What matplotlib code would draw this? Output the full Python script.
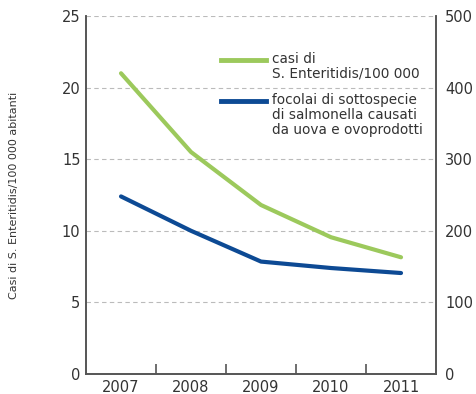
import matplotlib
matplotlib.use("Agg")
import matplotlib.pyplot as plt
from matplotlib.lines import Line2D
from matplotlib.legend_handler import HandlerLine2D

years = ["2007", "2008", "2009", "2010", "2011"]
casi = [21.0, 15.5, 11.8, 9.55, 8.15]          # casi per 100 000 (left axis)
focolai = [248, 200, 157, 148, 141]             # focolai (right axis)
left_ticks = [0, 5, 10, 15, 20, 25]
right_ticks = [0, 100, 200, 300, 400, 500]

green = "#9cc95c"
blue = "#0d4a94"
grey = "#555555"
txt = "#333333"


# legend handle lined up with the first line of a multi-line label
class FirstLineHandler(HandlerLine2D):
    def __init__(self, nlines, step=10.3, **kw):
        super().__init__(**kw)
        self.shift = (nlines - 1) / 2 * step

    def create_artists(self, legend, orig_handle, xdescent, ydescent,
                       width, height, fontsize, trans):
        arts = super().create_artists(legend, orig_handle, xdescent, ydescent,
                                      width, height, fontsize, trans)
        for a in arts:
            a.set_ydata([y + self.shift for y in a.get_ydata()])
        return arts


fig = plt.figure(figsize=(4.76, 3.94), dpi=100)
ax = fig.add_axes([0.1807, 0.0508, 0.7353, 0.9086])
ax2 = ax.twinx()

x = range(len(years))
ax.plot(x, casi, color=green, lw=3, solid_capstyle="round", zorder=3)
ax2.plot(x, focolai, color=blue, lw=3, solid_capstyle="round", zorder=3)

ax.set_xlim(-0.5, len(years) - 0.5)
ax.set_ylim(0, 25)
ax2.set_ylim(0, 500)
ax.set_yticks(left_ticks)
ax2.set_yticks(right_ticks)
ax.set_xticks(list(x))
ax.set_xticklabels(years)
ax.set_xticks([i + 0.5 for i in range(len(years) - 1)], minor=True)

ax.tick_params(axis="x", which="major", length=0, pad=4, labelsize=10.5, labelcolor=txt)
ax.tick_params(axis="x", which="minor", direction="in", length=7, width=1.2, color=grey)
ax.tick_params(axis="y", length=0, pad=4, labelsize=10.5, labelcolor=txt)
ax2.tick_params(axis="y", length=0, pad=6.5, labelsize=10.5, labelcolor=txt)

ax.grid(axis="y", color="#bbbbbb", ls=(0, (4, 3)), lw=0.8)
for a in (ax, ax2):
    a.spines["top"].set_visible(False)
    for s in ("left", "right", "bottom"):
        a.spines[s].set_color(grey)
        a.spines[s].set_linewidth(1.2)

ax.set_ylabel("Casi di S. Enteritidis/100 000 abitanti", fontsize=8, color=txt,
              labelpad=31)

labels = ["casi di\nS. Enteritidis/100 000",
          "focolai di sottospecie\ndi salmonella causati\nda uova e ovoprodotti"]
handles = [Line2D([], [], color=green, lw=3.5),
           Line2D([], [], color=blue, lw=3.5)]
hmap = {h: FirstLineHandler(lab.count("\n") + 1) for h, lab in zip(handles, labels)}
leg = fig.legend(handles, labels, loc="upper left", bbox_to_anchor=(0.452, 0.883),
                 frameon=False, fontsize=9.8, handlelength=3.3, handletextpad=0.45,
                 labelspacing=0.9, borderaxespad=0, handler_map=hmap)
for t in leg.get_texts():
    t.set_color(txt)
    t.set_linespacing(1.1)

fig.savefig("out.png", dpi=100)
